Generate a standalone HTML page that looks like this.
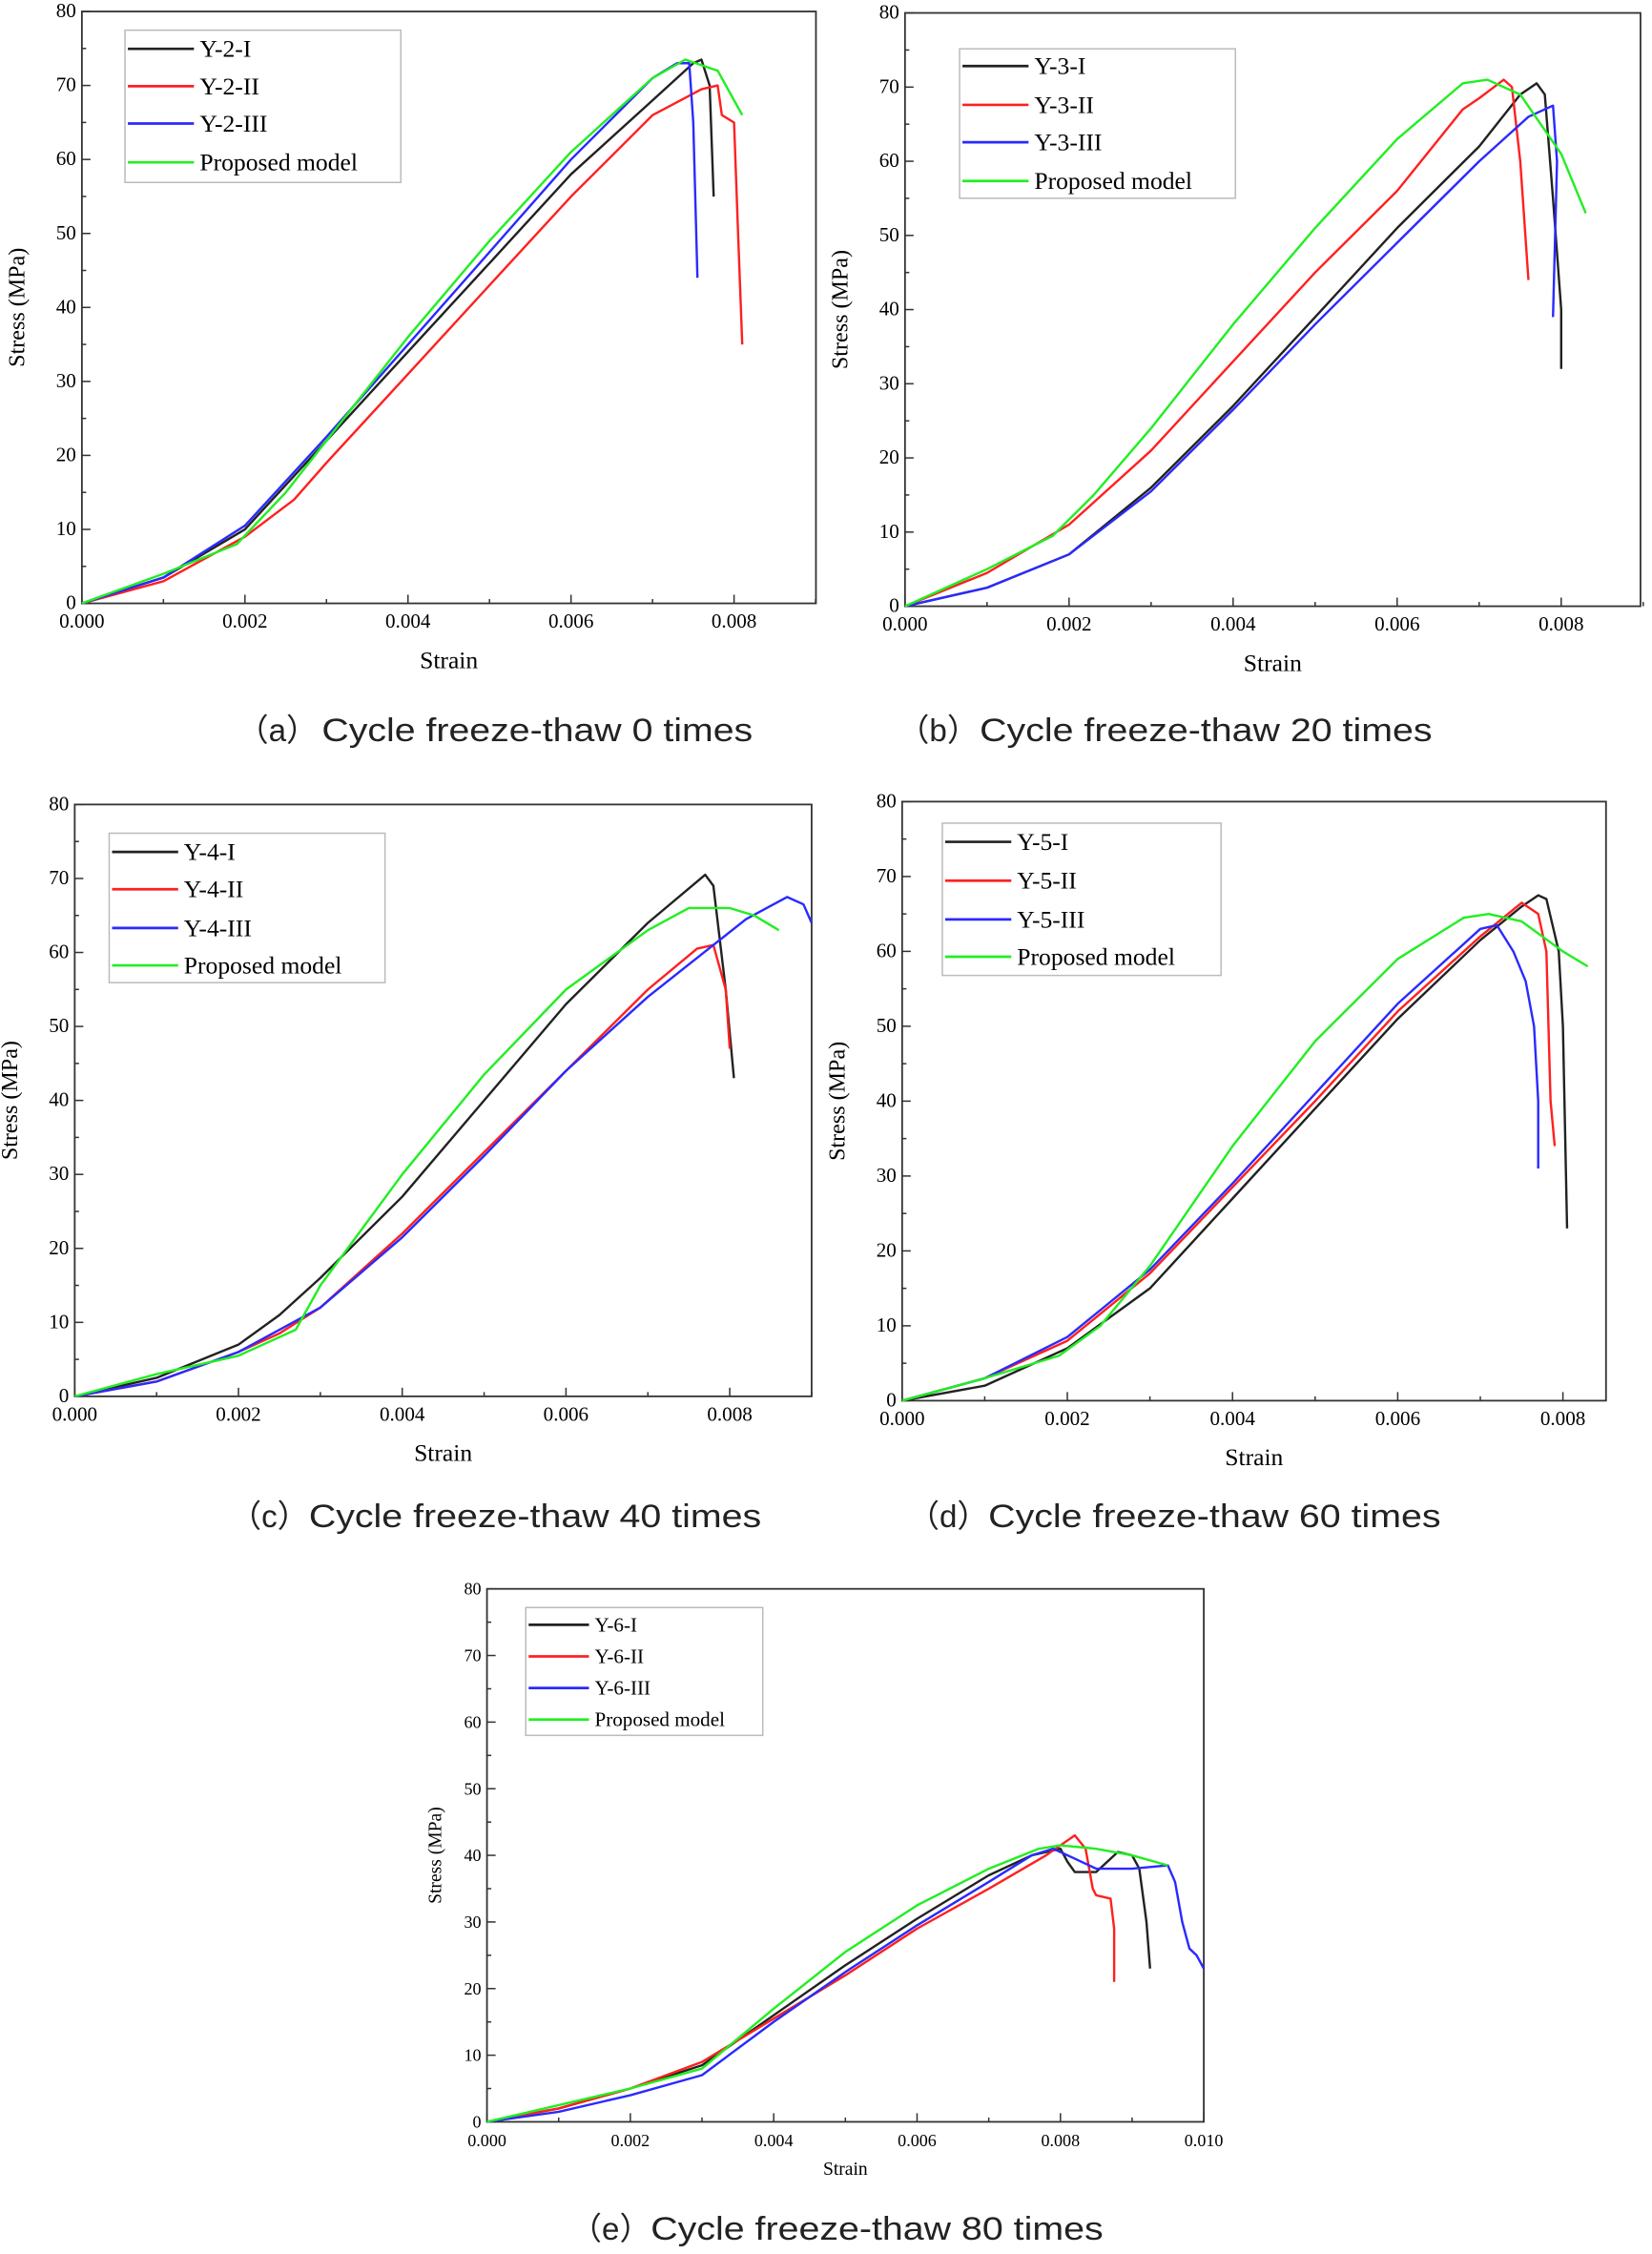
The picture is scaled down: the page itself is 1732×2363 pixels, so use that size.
<!DOCTYPE html>
<html><head><meta charset="utf-8"><style>html,body{margin:0;padding:0;background:#fff}svg{display:block}</style></head>
<body>
<svg id="s" xmlns="http://www.w3.org/2000/svg" width="1732" height="2363" viewBox="0 0 1150 1569"></svg>
<script>
const S=document.getElementById('s');let h='';
const P=[
{x0:57,x1:568,y0:420,y1:8,xmax:9,xs:56.75,lab:'Y-2',leg:[87,21,192,106],ly:[34,60,86,113],fs:17,pl:'a',ct:'Cycle freeze-thaw 0 times',px:165,tx:224,tw:300,cy:516,
 d:[[[0,0],[1,3.5],[2,10],[3,22],[4,34],[5,46],[6,58],[7,68],[7.5,73],[7.6,73.5],[7.7,70],[7.75,55]],
 [[0,0],[1,3],[2,9],[2.6,14],[3,19],[4,31],[5,43],[6,55],[7,66],[7.6,69.5],[7.8,70],[7.85,66],[8,65],[8.05,50],[8.1,35]],
 [[0,0],[1,3.5],[2,10.5],[3,22.5],[4,35],[5,47.5],[6,60],[7,71],[7.3,73],[7.45,73],[7.5,65],[7.55,44]],
 [[0,0],[1,4],[1.9,8],[2.5,15],[3,22],[4,36],[5,49],[6,61],[7,71],[7.4,73.5],[7.8,72],[8.1,66]]]},
{x0:630,x1:1142,y0:422,y1:9,xmax:9,xs:57.1,lab:'Y-3',leg:[668,34,192,104],ly:[46,73,99,126],fs:17,pl:'b',ct:'Cycle freeze-thaw 20 times',px:625,tx:682,tw:315,cy:516,
 d:[[[0,0],[1,2.5],[2,7],[3,16],[4,27],[5,39],[6,51],[7,62],[7.5,69],[7.7,70.5],[7.8,69],[7.9,55],[8,40],[8,32]],
 [[0,0],[1,4.5],[2,11],[2.5,16],[3,21],[4,33],[5,45],[6,56],[6.8,67],[7,68.5],[7.3,71],[7.4,70],[7.5,60],[7.6,44]],
 [[0,0],[1,2.5],[2,7],[3,15.5],[4,26.5],[5,38],[6,49],[7,60],[7.6,66],[7.9,67.5],[7.95,60],[7.9,39]],
 [[0,0],[1,5],[1.8,9.5],[2.3,15],[3,24],[4,38],[5,51],[6,63],[6.8,70.5],[7.1,71],[7.5,69],[8,61],[8.3,53]]]},
{x0:52,x1:565,y0:972,y1:560,xmax:9,xs:57,lab:'Y-4',leg:[76,580,192,104],ly:[593,619,646,672],fs:17,pl:'c',ct:'Cycle freeze-thaw 40 times',px:160,tx:215,tw:315,cy:1063,
 d:[[[0,0],[1,2.5],[2,7],[2.5,11],[3,16],[4,27],[5,40],[6,53],[7,64],[7.7,70.5],[7.8,69],[7.95,55],[8.05,43]],
 [[0,0],[1,2],[2,6],[2.5,8.5],[3,12],[4,22],[5,33],[6,44],[7,55],[7.6,60.5],[7.8,61],[7.95,55],[8,47]],
 [[0,0],[1,2],[2,6],[3,12],[4,21.5],[5,32.5],[6,44],[7,54],[7.8,61],[8.2,64.5],[8.7,67.5],[8.9,66.5],[9,64]],
 [[0,0],[1,3],[2,5.5],[2.7,9],[3,15],[4,30],[5,43.5],[6,55],[7,63],[7.5,66],[8,66],[8.3,65],[8.6,63]]]},
{x0:628,x1:1118,y0:975,y1:558,xmax:8.52,xs:57.5,lab:'Y-5',leg:[656,573,194,106],ly:[586,613,640,666],fs:17,pl:'d',ct:'Cycle freeze-thaw 60 times',px:632,tx:688,tw:315,cy:1063,
 d:[[[0,0],[1,2],[2,7],[3,15],[4,27],[5,39],[6,51],[7,61.5],[7.5,66],[7.7,67.5],[7.8,67],[7.95,60],[8,50],[8.05,23]],
 [[0,0],[1,3],[2,8],[3,17],[4,28.5],[5,40],[6,52],[7,62],[7.5,66.5],[7.7,65],[7.8,60],[7.85,40],[7.9,34]],
 [[0,0],[1,3],[2,8.5],[3,17.5],[4,29],[5,41],[6,53],[7,63],[7.2,63.5],[7.4,60],[7.55,56],[7.65,50],[7.7,40],[7.7,31]],
 [[0,0],[1,3],[1.9,6],[2.4,10],[3,18],[4,34],[5,48],[6,59],[6.8,64.5],[7.1,65],[7.5,64],[8,60],[8.3,58]]]},
{x0:339,x1:838,y0:1477,y1:1106,xmax:10,xs:49.9,lab:'Y-6',leg:[366,1119,165,89],ly:[1131,1153,1175,1197],fs:14,pl:'e',ct:'Cycle freeze-thaw 80 times',px:397,tx:453,tw:315,cy:1559,small:1,
 d:[[[0,0],[1,2],[2,5],[3,8.5],[4,16],[5,23.5],[6,30.5],[7,37],[7.6,40],[8,41],[8.1,39],[8.2,37.5],[8.5,37.5],[8.8,40.5],[9,40],[9.1,38],[9.2,30],[9.25,23]],
 [[0,0],[1,2],[2,5],[3,9],[4,15.5],[5,22],[6,29],[7,35],[7.8,40],[8.2,43],[8.35,41],[8.45,35],[8.5,34],[8.7,33.5],[8.75,29],[8.75,21]],
 [[0,0],[1,1.5],[2,4],[3,7],[4,15],[5,22.5],[6,29.5],[7,36],[7.6,40],[7.9,41],[8.2,39.5],[8.5,38],[9,38],[9.5,38.5],[9.6,36],[9.7,30],[9.8,26],[9.9,25],[10,23]],
 [[0,0],[1,2.5],[2,5],[3,8],[4,17],[5,25.5],[6,32.5],[7,38],[7.7,41],[8,41.5],[8.5,41],[9,40],[9.5,38.5]]]}
];
const cols=['#222','#ff2020','#2a2aff','#22ee22'];
const names=['-I','-II','-III'];
const F='font-family="Liberation Serif, serif"';
const SF='font-family="Liberation Sans, Noto Sans CJK SC, sans-serif"';
for(const p of P){
 const ys=(p.y0-p.y1)/80, X=v=>p.x0+v*p.xs, Y=v=>p.y0-v*ys;
 const tf=p.small?12:14;
 h+=`<rect x="${p.x0}" y="${p.y1}" width="${p.x1-p.x0}" height="${p.y0-p.y1}" fill="none" stroke="#333" stroke-width="1.2"/>`;
 for(let i=0;i<=80;i+=5){const y=Y(i);h+=`<line x1="${p.x0}" x2="${p.x0+(i%10?3:6)}" y1="${y}" y2="${y}" stroke="#333"/>`;
  if(i%10==0)h+=`<text x="${p.x0-4}" y="${y+4}" font-size="${tf}" text-anchor="end" ${F}>${i}</text>`;}
 for(let i=0;i<=p.xmax+0.01;i+=1){const x=X(i);h+=`<line x1="${x}" x2="${x}" y1="${p.y0}" y2="${p.y0-(i%2?3:6)}" stroke="#333"/>`;
  if(i%2==0)h+=`<text x="${x}" y="${p.y0+17}" font-size="${tf}" text-anchor="middle" ${F}>${(i/1000).toFixed(3)}</text>`;}
 const mx=(p.x0+p.x1)/2;
 h+=`<text x="${mx}" y="${p.y0+(p.small?37:45)}" font-size="${p.small?13:17}" text-anchor="middle" ${F}>Strain</text>`;
 const my=(p.y0+p.y1)/2, ax=p.x0-(p.small?32:40);
 h+=`<text transform="translate(${ax},${my}) rotate(-90)" font-size="${p.small?13:16}" text-anchor="middle" ${F}>Stress (MPa)</text>`;
 p.d.forEach((s,k)=>{h+=`<polyline fill="none" stroke="${cols[k]}" stroke-width="1.6" stroke-linejoin="round" points="${s.map(q=>X(q[0]).toFixed(1)+','+Y(q[1]).toFixed(1)).join(' ')}"/>`;});
 const [lx,ly,lw,lh]=p.leg;
 h+=`<rect x="${lx}" y="${ly}" width="${lw}" height="${lh}" fill="#fff" stroke="#bbb"/>`;
 const ll=p.small?42:46;
 p.ly.forEach((y,k)=>{h+=`<line x1="${lx+2}" x2="${lx+2+ll}" y1="${y}" y2="${y}" stroke="${cols[k]}" stroke-width="1.8"/>`;
  h+=`<text x="${lx+ll+6}" y="${y+p.fs*0.33}" font-size="${p.fs}" ${F}>${k<3?p.lab+names[k]:'Proposed model'}</text>`;});
 h+=`<text x="${p.px}" y="${p.cy}" font-size="22" ${SF} fill="#222">（${p.pl}）</text>`;
 h+=`<text x="${p.tx}" y="${p.cy}" font-size="23" textLength="${p.tw}" lengthAdjust="spacingAndGlyphs" ${SF} fill="#222">${p.ct}</text>`;
}
S.innerHTML=h;
</script>
</body></html>
